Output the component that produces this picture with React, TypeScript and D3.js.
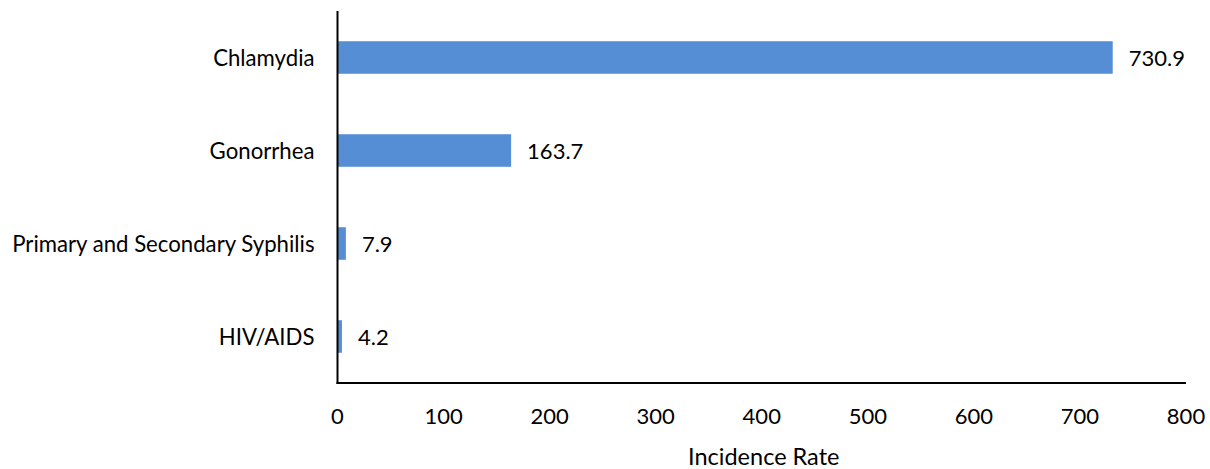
import React from "react";
import * as d3 from "d3";

const categories = ["Chlamydia", "Gonorrhea", "Primary and Secondary Syphilis", "HIV/AIDS"];
const values = [730.9, 163.7, 7.9, 4.2];
const xTicks = [0, 100, 200, 300, 400, 500, 600, 700, 800];
const xTitle = "Incidence Rate";

const W = 1210;
const H = 469;
const FONT = "Lato, 'Open Sans', sans-serif";

export default function App() {
  const left = 337.5;
  const right = 1186;
  const top = 11;
  const bottom = 383;

  const x = d3.scaleLinear().domain([0, 800]).range([left, right]);
  const y = d3
    .scaleBand<string>()
    .domain(categories)
    .range([top, bottom])
    .paddingInner(0.65)
    .paddingOuter(0.325);

  return (
    <svg width={W} height={H} style={{ position: "absolute", left: 0, top: 0 }} fontFamily={FONT}>
      <rect width={W} height={H} fill="#fff" />
      {categories.map((c, i) => (
        <g key={c}>
          <rect
            x={x(0)}
            y={y(c)!}
            width={x(values[i]) - x(0)}
            height={y.bandwidth()}
            fill="#558ed5"
          />
          <text
            x={x(values[i]) + 16}
            y={y(c)! + y.bandwidth() / 2}
            dominantBaseline="central"
            fontSize={22}
            fill="#000"
          >
            {values[i].toFixed(1)}
          </text>
          <text
            x={left - 23}
            y={y(c)! + y.bandwidth() / 2}
            textAnchor="end"
            dominantBaseline="central"
            fontSize={22.2}
            fill="#000"
          >
            {c}
          </text>
        </g>
      ))}
      <line x1={left} x2={left} y1={top} y2={bottom + 1} stroke="#000" strokeWidth={2} />
      <line x1={left - 1} x2={right} y1={bottom} y2={bottom} stroke="#000" strokeWidth={2} />
      {xTicks.map((t) => (
        <text key={t} x={x(t)} y={415} textAnchor="middle" dominantBaseline="central" fontSize={22} fill="#000">
          {t}
        </text>
      ))}
      <text x={(left + right) / 2 + 2} y={465} textAnchor="middle" fontSize={23.5} fill="#000">
        {xTitle}
      </text>
    </svg>
  );
}
